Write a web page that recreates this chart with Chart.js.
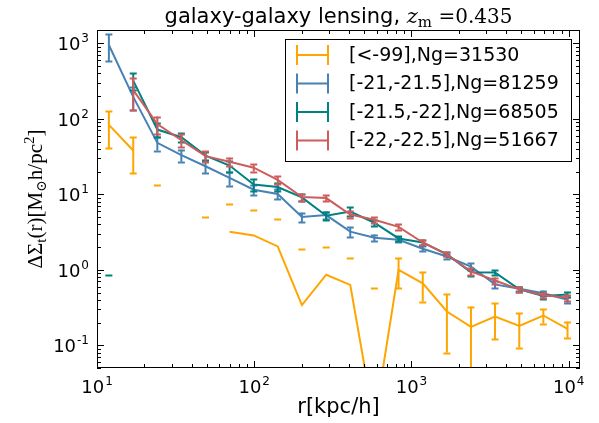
<!DOCTYPE html>
<html>
<head>
<meta charset="utf-8">
<script src="https://cdn.jsdelivr.net/npm/chart.js@4.4.1/dist/chart.umd.min.js"></script>
<style>
  html, body { margin: 0; padding: 0; background: #fff; }
  #c { display: block; }
</style>
</head>
<body>
<canvas id="c" width="599" height="423"></canvas>
<script>
'use strict';

// radial bins, kpc/h
const radius = [11.9, 17, 24.2, 34.4, 49, 69.7, 99.3, 141, 201, 287, 408, 581, 828, 1180, 1680, 2390, 3400, 4850, 6900, 9830];

const seriesLabels = ['[<-99],Ng=31530', '[-21,-21.5],Ng=81259', '[-21.5,-22],Ng=68505', '[-22,-22.5],Ng=51667'];

const orangeY   = [83, 38, null, null, null, 3.2, 2.85, 2.04, 0.34, 0.86, 0.63, 0.0095, 1.0, 0.66, 0.28, 0.175, 0.24, 0.18, 0.248, 0.165];
const orangeErr = [42, 19, null, null, null, 4.3, 3.35, 2.66, 1.54, 1.14, 0.8, 0.57, 0.43, 0.28, 0.2, 0.15, 0.12, 0.087, 0.055, 0.04];
// upper end of the error bar where the point itself is not positive
const orangeCap = [null, null, 13.4, null, 5.0, null, null, null, null, null, null, null, null, null, null, null, null, null, null, null];

const blueY   = [950, 195, 48, 33, 23.5, 16.5, 11.5, 10.1, 5.0, 5.3, 3.2, 2.65, 2.5, 1.9, 1.5, 1.1, 0.64, 0.56, 0.49, 0.40];
const blueErr = [370, 65, 10, 6, 4.5, 3.5, 1.7, 1.5, 0.7, 0.6, 0.5, 0.28, 0.2, 0.15, 0.1, 0.12, 0.07, 0.04, 0.04, 0.04];

const greenY   = [null, 320, 72, 57, 32.5, 24, 13.5, 12.5, 9.1, 5.2, 5.9, 4.2, 2.6, 2.3, 1.6, 0.93, 0.92, 0.55, 0.45, 0.47];
const greenErr = [null, 80, 15, 8, 4, 4, 2.5, 1.5, 1, 0.6, 0.8, 0.4, 0.2, 0.2, 0.1, 0.1, 0.06, 0.04, 0.04, 0.04];
const greenCap = [0.86, null, null, null, null, null, null, null, null, null, null, null, null, null, null, null, null, null, null, null];

const redY   = [null, 240, 85, 52, 32, 27, 22.5, 15.5, 9.2, 8.9, 5.4, 4.6, 3.7, 2.3, 1.6, 0.95, 0.72, 0.55, 0.46, 0.43];
const redErr = [null, 110, 22, 10, 5, 3.5, 2.5, 2, 1, 0.8, 0.6, 0.4, 0.3, 0.2, 0.1, 0.1, 0.07, 0.04, 0.04, 0.04];

const xTicks = [10, 100, 1000, 10000];
const xTickExp = ['1', '2', '3', '4'];
const yTicks = [0.1, 1, 10, 100, 1000];
const yTickExp = ['-1', '0', '1', '2', '3'];

const colors = ['#FFA500', '#4682B4', '#008080', '#CD5C5C'];
const series = [
  { y: orangeY, err: orangeErr, cap: orangeCap },
  { y: blueY, err: blueErr, cap: null },
  { y: greenY, err: greenErr, cap: greenCap },
  { y: redY, err: redErr, cap: null }
];

const SANS = '"DejaVu Sans", sans-serif';
const SERIF = '"Liberation Serif", "DejaVu Serif", serif';
const MATH = '"DejaVu Serif", serif';

const errorBars = {
  id: 'errorBars',
  afterDatasetDraw(chart, args) {
    const s = series[args.index];
    const ctx = chart.ctx;
    const xs = chart.scales.x, ys = chart.scales.y;
    const a = chart.chartArea;
    ctx.save();
    ctx.beginPath();
    ctx.rect(a.left, a.top, a.right - a.left, a.bottom - a.top);
    ctx.clip();
    ctx.strokeStyle = colors[args.index];
    ctx.lineWidth = 2;
    radius.forEach((r, i) => {
      const px = xs.getPixelForValue(r);
      let hi = null, lo = null;
      if (s.y[i] != null && s.err[i] != null) {
        hi = s.y[i] + s.err[i];
        lo = s.y[i] - s.err[i];
      }
      if (s.cap && s.cap[i] != null) hi = s.cap[i];
      if (hi > 0 && lo > 0) {
        ctx.beginPath();
        ctx.moveTo(px, ys.getPixelForValue(lo));
        ctx.lineTo(px, ys.getPixelForValue(hi));
        ctx.stroke();
      }
      [hi, lo].forEach(v => {
        if (v > 0) {
          const py = Math.round(ys.getPixelForValue(v)) + 0.5;
          ctx.beginPath();
          ctx.moveTo(px - 3.5, py);
          ctx.lineTo(px + 3.5, py);
          ctx.stroke();
        }
      });
    });
    ctx.restore();
  }
};

function drawPow(ctx, x, y, exp, align) {
  ctx.font = '18px ' + SANS;
  const wb = ctx.measureText('10').width;
  ctx.font = '12px ' + SANS;
  const we = ctx.measureText(exp).width;
  const total = wb + we + 1;
  let x0 = x;
  if (align === 'center') x0 = x - total / 2;
  if (align === 'right') x0 = x - total;
  ctx.textAlign = 'left';
  ctx.textBaseline = 'alphabetic';
  ctx.font = '18px ' + SANS;
  ctx.fillText('10', x0, y);
  ctx.font = '12px ' + SANS;
  ctx.fillText(exp, x0 + wb + 1, y - 8);
}

function drawRuns(ctx, runs, x, y) {
  // runs: [text, font, dy]
  let cx = x;
  runs.forEach(r => {
    ctx.font = r[1];
    ctx.fillText(r[0], cx, y + r[2]);
    cx += ctx.measureText(r[0]).width;
  });
  return cx - x;
}

function runsWidth(ctx, runs) {
  let w = 0;
  runs.forEach(r => { ctx.font = r[1]; w += ctx.measureText(r[0]).width; });
  return w;
}

const frame = {
  id: 'frame',
  afterDraw(chart) {
    const ctx = chart.ctx;
    const a = chart.chartArea;
    const xs = chart.scales.x, ys = chart.scales.y;
    ctx.save();
    ctx.strokeStyle = '#000';
    ctx.fillStyle = '#000';
    ctx.lineWidth = 1;

    // minor and major ticks, inward on all sides
    const tick = (x1, y1, x2, y2) => {
      ctx.beginPath(); ctx.moveTo(x1, y1); ctx.lineTo(x2, y2); ctx.stroke();
    };
    for (let d = 10; d <= 10000; d *= 10) {
      for (let m = 1; m <= 9; m++) {
        const v = d * m;
        if (v < xs.min || v > xs.max) continue;
        const px = Math.round(xs.getPixelForValue(v)) + 0.5;
        const len = m === 1 ? 7 : 4;
        tick(px, a.bottom, px, a.bottom - len);
        tick(px, a.top, px, a.top + len);
      }
    }
    for (let d = 0.01; d <= 1000; d *= 10) {
      for (let m = 1; m <= 9; m++) {
        const v = d * m;
        if (v < ys.min || v > ys.max) continue;
        const py = Math.round(ys.getPixelForValue(v)) + 0.5;
        const len = m === 1 ? 7 : 4;
        tick(a.left, py, a.left + len, py);
        tick(a.right, py, a.right - len, py);
      }
    }
    ctx.strokeRect(a.left + 0.5, a.top + 0.5, a.right - a.left - 1, a.bottom - a.top - 1);

    // tick labels
    xTicks.forEach((v, i) => drawPow(ctx, xs.getPixelForValue(v), a.bottom + 25, xTickExp[i], 'center'));
    yTicks.forEach((v, i) => drawPow(ctx, a.left - 8, ys.getPixelForValue(v) + 7, yTickExp[i], 'right'));

    // x label
    ctx.font = '21px ' + SANS;
    ctx.textAlign = 'center';
    ctx.fillText('r[kpc/h]', (a.left + a.right) / 2, 413);

    // title
    ctx.textAlign = 'left';
    const titleRuns = [
      ['galaxy-galaxy lensing, ', '21px ' + SANS, 0],
      ['z', 'italic 21px ' + MATH, 0],
      ['m', '15px ' + MATH, 4],
      [' =0.435', '20px ' + MATH, 0]
    ];
    const tw = runsWidth(ctx, titleRuns);
    drawRuns(ctx, titleRuns, (a.left + a.right) / 2 - tw / 2, 23);

    // y label
    const yRuns = [
      ['ΔΣ', '21px ' + SERIF, 0],
      ['t', '15px ' + SERIF, 4],
      ['(r)[M', '21px ' + SERIF, 0],
      ['⊙', '14px ' + SERIF, 4],
      ['h/pc', '21px ' + SERIF, 0],
      ['2', '15px ' + SERIF, -8],
      [']', '21px ' + SERIF, 0]
    ];
    const yw = runsWidth(ctx, yRuns);
    ctx.save();
    ctx.translate(42, (a.top + a.bottom) / 2);
    ctx.rotate(-Math.PI / 2);
    drawRuns(ctx, yRuns, -yw / 2, 0);
    ctx.restore();

    // legend
    const lx = 285.5, ly = 39.5, lw = 286, lh = 122;
    ctx.fillStyle = '#fff';
    ctx.fillRect(lx, ly, lw, lh);
    ctx.strokeStyle = '#000';
    ctx.strokeRect(lx, ly, lw, lh);
    const rowY = [55, 83.5, 112, 140.5];
    chart.data.datasets.forEach((ds, i) => {
      const cy = rowY[i];
      ctx.strokeStyle = colors[i];
      ctx.lineWidth = 2;
      ctx.beginPath();
      ctx.moveTo(297, cy); ctx.lineTo(328, cy);
      ctx.moveTo(297, cy - 10); ctx.lineTo(297, cy + 10);
      ctx.moveTo(328, cy - 10); ctx.lineTo(328, cy + 10);
      ctx.stroke();
      ctx.fillStyle = '#000';
      ctx.font = '19px ' + SANS;
      ctx.textAlign = 'left';
      ctx.textBaseline = 'middle';
      ctx.fillText(ds.label, 349, cy + 1);
    });
    ctx.restore();
  }
};

const datasets = series.map((s, i) => ({
  label: seriesLabels[i],
  data: radius.map((r, j) => ({ x: r, y: s.y[j] })),
  borderColor: colors[i],
  backgroundColor: colors[i],
  borderWidth: 2,
  pointRadius: 0,
  tension: 0,
  spanGaps: false,
  order: 4 - i
}));

new Chart(document.getElementById('c'), {
  type: 'line',
  data: { datasets },
  options: {
    responsive: false,
    animation: false,
    devicePixelRatio: 1,
    layout: { padding: { left: 97, right: 19, top: 30, bottom: 55 } },
    plugins: { legend: { display: false }, tooltip: { enabled: false } },
    scales: {
      x: { type: 'logarithmic', min: 10, max: 11800, display: false },
      y: { type: 'logarithmic', min: 0.05, max: 1500, display: false }
    }
  },
  plugins: [errorBars, frame]
});
</script>
</body>
</html>
